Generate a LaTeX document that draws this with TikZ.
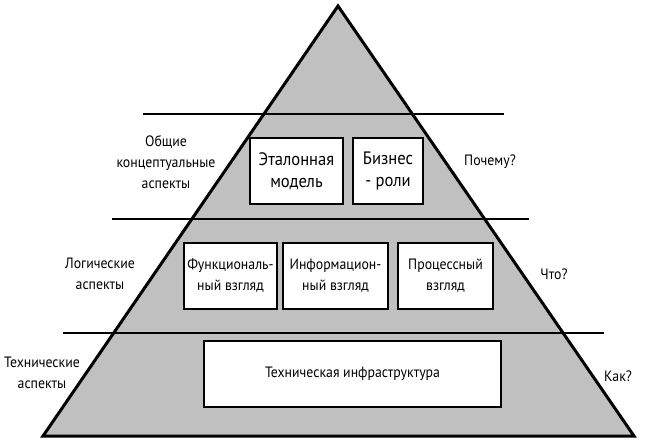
\documentclass[tikz,border=0pt]{standalone}
\usepackage{fontspec}
\setmainfont{PT Sans}[FakeStretch=0.92]
\definecolor{pyrgrey}{RGB}{192,192,192}
\newcommand\myfs{\fontsize{15}{21}\selectfont}
\newcommand\mybigfs{\fontsize{18}{22}\selectfont}
\begin{document}
\begin{tikzpicture}[x=1pt,y=-1pt,
  box/.style={draw=black, line width=1.3pt, fill=white, align=center, inner sep=0pt, font=\myfs},
  bigbox/.style={box, font=\mybigfs},
  lbl/.style={align=center, inner sep=0pt, font=\myfs},
  sep/.style={draw=black, line width=1.1pt}]
\useasboundingbox (0,0) rectangle (650,444);
\coordinate (A) at (338,6);
\coordinate (BL) at (43,436);
\coordinate (BR) at (634,436);
\fill[pyrgrey] (A)--(BL)--(BR)--cycle;
\coordinate (l1a) at (143,114);
\coordinate (l1b) at (504,114);
\coordinate (l2a) at (112,219);
\coordinate (l2b) at (529,219);
\coordinate (l3a) at (63,333);
\coordinate (l3b) at (604,333);
\draw[sep] (l1a)--(l1b);
\draw[sep] (l2a)--(l2b);
\draw[sep] (l3a)--(l3b);
\draw[line width=3pt, line join=miter] (A)--(BL)--(BR)--cycle;
% boxes
\node[bigbox, minimum width=93pt, minimum height=66pt] (etal) at (296.5,171) {Эталонная\\модель};
\node[bigbox, minimum width=70pt, minimum height=66pt] (biz) at (388,171) {Бизнес\\- роли};
\node[box, minimum width=93pt, minimum height=66pt] (func) at (230.5,276) {Функциональ-\\ный взгляд};
\node[box, minimum width=105pt, minimum height=66pt] (info) at (335.5,276) {Информацион-\\ный взгляд};
\node[box, minimum width=95pt, minimum height=66pt] (proc) at (445.5,276) {Процессный\\взгляд};
\node[box, minimum width=297pt, minimum height=66pt] (tech) at (352.5,374) {Техническая инфраструктура};
% labels
\node[lbl] (obsh) at (166,162) {Общие\\концептуальные\\аспекты};
\node[lbl] (log) at (100,274) {Логические\\аспекты};
\node[lbl] (tex) at (42,372.5) {Технические\\аспекты};
\node[lbl] (why) at (490,162) {Почему?};
\node[lbl] (what) at (554,274) {Что?};
\node[lbl] (how) at (618,376) {Как?};
\end{tikzpicture}
\end{document}
